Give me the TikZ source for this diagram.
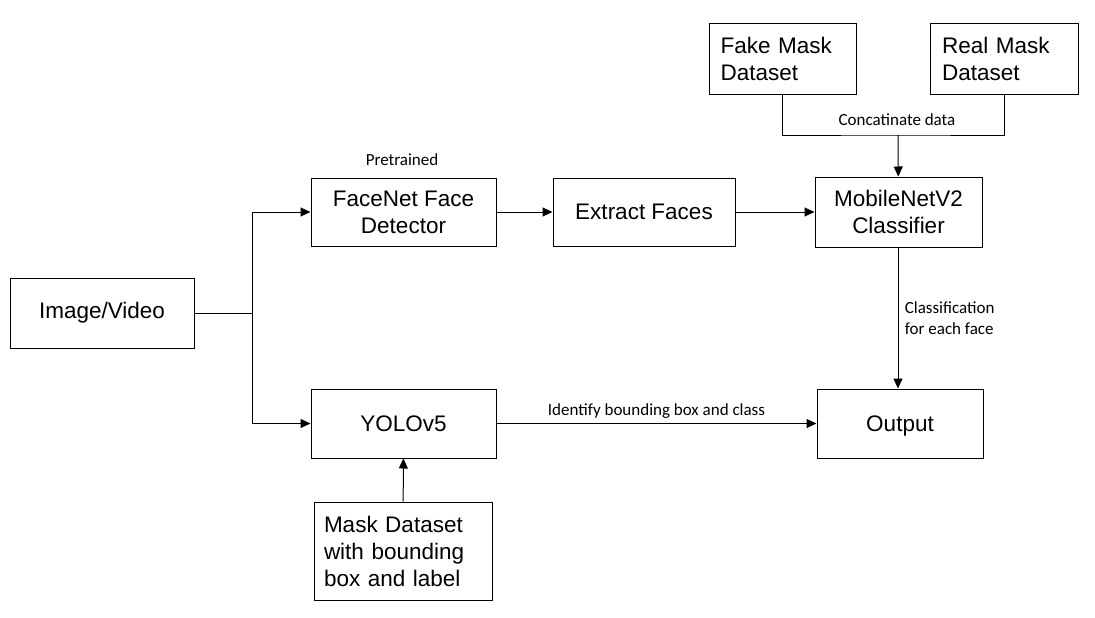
\documentclass[tikz,border=0pt]{standalone}
\usepackage{fontspec}
\setmainfont{Liberation Sans}
\newfontfamily\lblfont{Carlito}
\usetikzlibrary{positioning,arrows.meta}

\begin{document}
\begin{tikzpicture}[x=1pt, y=-1pt, line width=1pt,
    main/.style = {draw, rectangle, inner sep=0pt, font=\fontsize{22.5}{27}\selectfont, align=center},
    side/.style = {main, align=left},
    lbl/.style = {font=\lblfont\fontsize{17}{21}\selectfont},
    arr/.style = {-{Triangle[length=10pt,width=9pt]}}]
            \useasboundingbox (0,0) rectangle (1095,618);
            % Nodes
            \node[main, minimum width=184pt, minimum height=70pt] (img) at (102,313) {Image/Video};
            \node[main, minimum width=185pt, minimum height=68pt] (facenet) at (403.5,212) {FaceNet Face\\Detector};
            \node[main, minimum width=182pt, minimum height=68pt] (extract) at (644,212) {Extract Faces};
            \node[main, minimum width=167pt, minimum height=70pt] (mobilenet) at (898.5,212) {MobileNetV2\\Classifier};
            \node[side, minimum width=147pt, minimum height=70pt, text width=124pt] (fake) at (782.5,59) {Fake Mask\\Dataset};
            \node[side, minimum width=148pt, minimum height=70pt, text width=124pt] (real) at (1004,59) {Real Mask\\Dataset};
            \node[main, minimum width=185pt, minimum height=69pt] (yolo) at (403.5,423.5) {YOLOv5};
            \node[main, minimum width=166pt, minimum height=69pt, text depth=0pt] (output) at (900,423.5) {Output};
            \node[side, minimum width=178pt, minimum height=98pt, text width=158pt] (mask) at (403,551) {Mask Dataset\\with bounding\\box and label};
            \coordinate (split) at (252,313);
            \coordinate (join) at (898,135);
            % Labels
            \node[lbl] (pre) at (402,160) {Pretrained};
            \node[lbl] (concat) at (897,120) {Concatinate data};
            % Edges
            \draw (img) -- (split);
            \draw[arr] (split) |- (facenet);
            \draw[arr] (split) |- (yolo);
            \draw[arr] (facenet) -- (extract);
            \draw[arr] (extract) -- (mobilenet);
            \draw (fake.south) |- (join) -| (real.south);
            \draw[arr] (join) -- (mobilenet);
            \draw[arr] (mobilenet.south -| join) -- node[lbl, right=3pt, align=left] {Classification\\for each face} (output.north -| join);
            \draw[arr] (yolo) -- node[lbl, above=1pt] {Identify bounding box and class} (output);
            \draw[arr] (mask) -- (yolo);
\end{tikzpicture}
\end{document}
